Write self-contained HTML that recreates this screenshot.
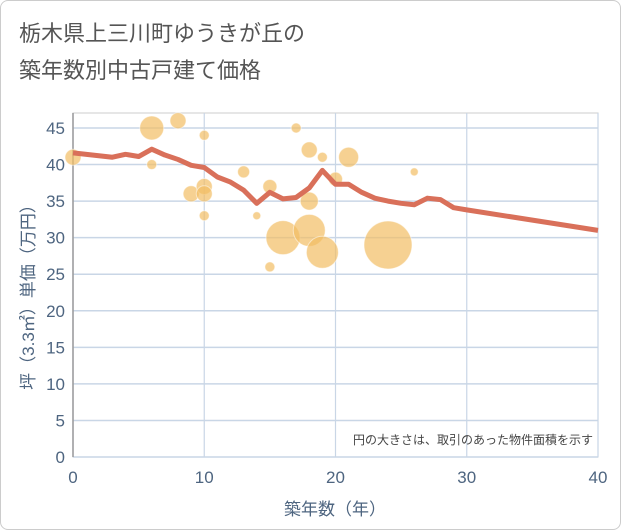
<!DOCTYPE html>
<html><head><meta charset="utf-8"><style>
body{margin:0;background:#fff;font-family:"Liberation Sans","Noto Sans CJK JP",sans-serif}
#wrap{position:relative;width:619px;height:528px;border:1px solid #ccc;border-radius:8px;overflow:hidden}
</style></head><body>
<div id="wrap">
<svg id="c" width="621" height="530"></svg>
</div>
<script>
const lineYears=[0,3,4,5,6,7,8,9,10,11,12,13,14,15,16,17,18,19,20,21,22,23,24,25,26,27,28,29,30,40];
const lineValues=[41.6,41.0,41.4,41.1,42.1,41.3,40.7,39.9,39.6,38.3,37.6,36.5,34.7,36.2,35.3,35.5,36.8,39.2,37.3,37.3,36.2,35.4,35.0,34.7,34.5,35.4,35.2,34.1,33.8,31.0];
const bubbleX=[0,6,6,8,9,10,10,10,10,13,14,15,15,16,17,18,18,18,19,19,20,21,24,26];
const bubbleY=[41,45,40,46,36,44,37,36,33,39,33,37,26,30,45,42,35,31,41,28,38,41,29,39];
const bubbleR=[8,12,5,8,8,5,8,8,5,6,4,7,5,17,5,8,9,16,5,16,7,10,24,4];
const xTicks=[0,10,20,30,40];
const yTicks=[0,5,10,15,20,25,30,35,40,45];
const NS="http://www.w3.org/2000/svg";
const svg=document.getElementById('c');
const X0=72,X1=597,Y0=456,Y45=127;
const TC='#4e6580';
const xs=v=>X0+(X1-X0)*v/40;
const ys=v=>Y0-(Y0-Y45)*v/45;
function mk(t,a,txt){const e=document.createElementNS(NS,t);for(const k in a)e.setAttribute(k,a[k]);if(txt!=null)e.textContent=txt;svg.appendChild(e);return e;}
let e;
e=mk('text',{x:18,y:40,'font-size':22,fill:'#555'},'栃木県上三川町ゆうきが丘の');


e=mk('text',{x:18,y:77,'font-size':22,fill:'#555'},'築年数別中古戸建て価格');


e=mk('rect',{x:X0,y:112,width:X1-X0,height:Y0-112,fill:'#fff',stroke:'#ccc'});


yTicks.forEach(v=>{
e=mk('line',{x1:X0,x2:X1,y1:ys(v),y2:ys(v),stroke:'#c9d6e6','stroke-width':1.5});


e=mk('text',{x:64,y:ys(v)+6,'font-size':17,fill:TC,'text-anchor':'end'},v);


});
xTicks.forEach(v=>{
e=mk('line',{x1:xs(v),x2:xs(v),y1:112,y2:Y0,stroke:'#c9d6e6','stroke-width':1.2});


e=mk('text',{x:xs(v),y:482,'font-size':17,fill:TC,'text-anchor':'middle'},v);


});
e=mk('line',{x1:X0,x2:X0,y1:112,y2:Y0,stroke:'#999','stroke-width':1.5});


bubbleX.forEach((v,i)=>{
e=mk('circle',{cx:xs(v),cy:ys(bubbleY[i]),r:bubbleR[i],fill:'rgba(242,189,100,0.7)',stroke:'rgba(255,255,255,0.5)'});


});
e=mk('polyline',{points:lineYears.map((v,i)=>xs(v)+','+ys(lineValues[i])).join(' '),fill:'none',stroke:'#d9705a','stroke-width':5,'stroke-linejoin':'round'});


e=mk('text',{x:592,y:443,'font-size':12,fill:'#444','text-anchor':'end'},'円の大きさは、取引のあった物件面積を示す');


e=mk('text',{x:334,y:514,'font-size':17,fill:TC,'text-anchor':'middle'},'築年数（年）');


e=mk('text',{x:0,y:0,'font-size':17,fill:TC,'text-anchor':'middle',transform:'translate(33,292) rotate(-90)'},'坪（3.3㎡）単価（万円）');


</script>
</body></html>
